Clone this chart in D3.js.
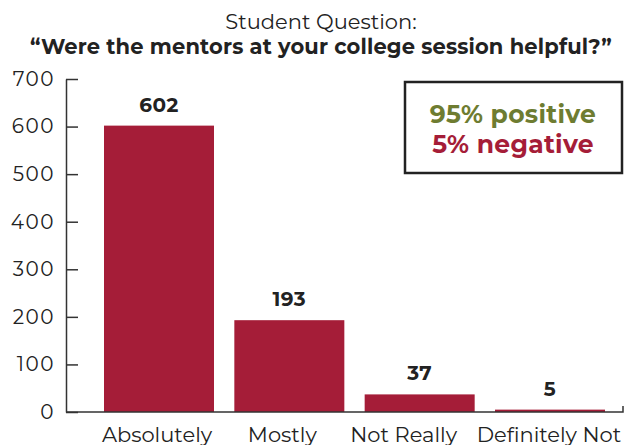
<!DOCTYPE html>
<html>
<head>
<meta charset="utf-8">
<script src="https://cdn.jsdelivr.net/npm/d3@7"></script>
<style>
  body { margin: 0; background: #fff; }
  text { font-family: "Montserrat", "Noto Sans", "Open Sans", sans-serif; fill: #222; }
</style>
</head>
<body>
<script>
const width = 635;
const height = 445;

// data
const categories = ["Absolutely", "Mostly", "Not Really", "Definitely Not"];
const counts = [602, 193, 37, 5];
const yTicks = [0, 100, 200, 300, 400, 500, 600, 700];
const titleLines = ["Student Question:", "\u201cWere the mentors at your college session helpful?\u201d"];
const summary = ["95% positive", "5% negative"];

const barColor = "#a51d38";
const greenColor = "#6e7c31";
// category labels in the original sit a little left of the bar centres
const labelNudge = [-2, -7, -16, -1];

const svg = d3.select("body").append("svg")
    .attr("width", width)
    .attr("height", height);

const x = d3.scaleBand()
    .domain(categories)
    .range([104, 605])
    .paddingInner(0.156)
    .paddingOuter(0);

const y = d3.scaleLinear()
    .domain([0, 700])
    .range([412, 79]);

// title
svg.append("text")
    .attr("x", 321).attr("y", 29)
    .attr("text-anchor", "middle")
    .style("font-size", "21px")
    .text(titleLines[0]);
svg.append("text")
    .attr("x", 321).attr("y", 54)
    .attr("text-anchor", "middle")
    .style("font-size", "21px")
    .style("font-weight", "bold")
    .style("letter-spacing", "0.15px")
    .text(titleLines[1]);

// y axis
const yAxis = svg.append("g")
    .attr("transform", "translate(66,0)")
    .call(d3.axisRight(y).tickValues(yTicks).tickSize(12).tickSizeOuter(0));
yAxis.select(".domain").attr("stroke", "#333").attr("stroke-width", 1.5);
yAxis.selectAll(".tick line").attr("stroke", "#333").attr("stroke-width", 1.5);
yAxis.selectAll(".tick text")
    .attr("x", -11)
    .attr("text-anchor", "end")
    .style("font-size", "20px")
    .style("letter-spacing", "1.5px")
    .style("fill", "#222");

// bars
svg.append("g").selectAll("rect")
    .data(categories)
    .enter()
    .append("rect")
    .attr("x", d => x(d))
    .attr("width", x.bandwidth())
    .attr("y", (d, i) => y(counts[i]))
    .attr("height", (d, i) => y(0) - y(counts[i]))
    .attr("fill", barColor);

// value labels
svg.append("g").selectAll("text")
    .data(categories)
    .enter()
    .append("text")
    .attr("x", d => x(d) + x.bandwidth() / 2)
    .attr("y", (d, i) => y(counts[i]) - 14)
    .attr("text-anchor", "middle")
    .style("font-size", "20px")
    .style("font-weight", "bold")
    .style("letter-spacing", "0.5px")
    .text((d, i) => counts[i]);

// x axis
const xAxis = svg.append("g")
    .attr("transform", "translate(0,412)");
xAxis.append("path")
    .attr("d", "M66,0H623V-6")
    .attr("fill", "none")
    .attr("stroke", "#333")
    .attr("stroke-width", 1.5);
xAxis.selectAll("text")
    .data(categories)
    .enter()
    .append("text")
    .attr("x", (d, i) => x(d) + x.bandwidth() / 2 + labelNudge[i])
    .attr("y", 30)
    .attr("text-anchor", "middle")
    .style("font-size", "21px")
    .text(d => d);

// summary box
svg.append("rect")
    .attr("x", 405).attr("y", 82)
    .attr("width", 217).attr("height", 91)
    .attr("fill", "#fff")
    .attr("stroke", "#222")
    .attr("stroke-width", 2.5);
svg.append("text")
    .attr("x", 513).attr("y", 123)
    .attr("text-anchor", "middle")
    .style("font-size", "25px")
    .style("font-weight", "bold")
    .style("letter-spacing", "0.3px")
    .style("fill", greenColor)
    .text(summary[0]);
svg.append("text")
    .attr("x", 513).attr("y", 153)
    .attr("text-anchor", "middle")
    .style("font-size", "25px")
    .style("font-weight", "bold")
    .style("letter-spacing", "0.3px")
    .style("fill", barColor)
    .text(summary[1]);
</script>
</body>
</html>
